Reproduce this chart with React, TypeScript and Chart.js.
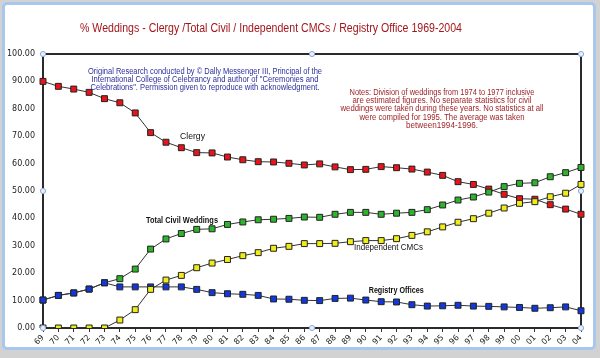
import React, { useEffect, useRef } from 'react';
import { Chart, registerables } from 'chart.js';

Chart.register(...registerables);

const years = ['69', '70', '71', '72', '73', '74', '75', '76', '77', '78', '79', '80', '81', '82', '83', '84', '85', '86', '87', '88', '89', '90', '91', '92', '93', '94', '95', '96', '97', '98', '99', '00', '01', '02', '03', '04'];

const clergy = [90.0, 88.2, 87.2, 86.0, 83.7, 82.2, 78.5, 71.3, 67.8, 65.8, 64.0, 63.9, 62.4, 61.4, 60.7, 60.6, 60.1, 59.5, 59.9, 58.8, 57.8, 57.9, 58.9, 58.5, 58.0, 56.9, 55.7, 53.4, 52.4, 50.7, 48.8, 47.2, 47.0, 45.0, 43.4, 41.5];

const totalCivil = [10.2, 11.9, 12.8, 14.2, 16.5, 18.0, 21.5, 28.8, 32.5, 34.5, 36.0, 36.2, 37.8, 38.7, 39.5, 39.7, 40.0, 40.5, 40.4, 41.5, 42.2, 42.2, 41.5, 41.9, 42.2, 43.2, 44.9, 46.7, 47.8, 49.6, 51.6, 52.8, 53.0, 55.2, 56.7, 58.6];

const independentCMCs = [0, 0, 0, 0, 0, 2.9, 6.7, 14.1, 17.5, 19.2, 22.0, 23.7, 25.0, 26.4, 27.5, 29.1, 29.8, 30.8, 30.8, 30.9, 31.5, 31.9, 31.9, 32.6, 33.8, 35.1, 36.9, 38.6, 39.9, 41.9, 43.8, 45.5, 46.1, 47.9, 49.2, 52.4];

const registryOffices = [10.2, 11.9, 12.8, 14.2, 16.5, 15.0, 15.0, 15.0, 15.0, 15.0, 14.1, 12.9, 12.5, 12.3, 11.9, 10.6, 10.5, 10.1, 10.0, 10.8, 10.9, 10.2, 9.6, 9.5, 8.5, 8.0, 8.1, 8.3, 8.0, 7.9, 7.7, 7.5, 7.2, 7.4, 7.7, 6.3];

const titleText = '% Weddings - Clergy /Total Civil / Independent CMCs / Registry Office 1969-2004';

const creditLines = [
  'Original Research conducted by \u00A9 Dally Messenger III, Principal of the',
  'International College of Celebrancy and author of "Ceremonies and',
  'Celebrations". Permission given to reproduce with acknowledgment.',
];

const noteLines = [
  'Notes: Division of weddings from 1974 to 1977 inclusive',
  'are estimated figures. No separate statistics for civil',
  'weddings were taken during these years. No statistics at all',
  'were compiled for 1995. The average was taken',
  'between1994-1996.',
];

const FONT = '"Liberation Sans", Arial, sans-serif';

function drawText(ctx: CanvasRenderingContext2D, s: string, x: number, y: number, font: string, color: string, align: CanvasTextAlign, maxW?: number) {
  ctx.font = font;
  ctx.fillStyle = color;
  ctx.textAlign = align;
  ctx.textBaseline = 'middle';
  if (maxW) ctx.fillText(s, x, y, maxW);
  else ctx.fillText(s, x, y);
}

const frameBorder = {
  id: 'frameBorder',
  beforeDatasetsDraw(chart: any) {
    const { ctx, chartArea: a } = chart;
    ctx.save();
    ctx.strokeStyle = '#2a2a2a';
    ctx.lineWidth = 2;
    ctx.beginPath();
    ctx.moveTo(a.left, a.top);
    ctx.lineTo(a.right, a.top);
    ctx.lineTo(a.right, a.bottom);
    ctx.stroke();
    ctx.restore();
  },
  afterDraw(chart: any) {
    const { ctx, chartArea: a } = chart;
    ctx.save();
    const mx = (a.left + a.right) / 2;
    const my = (a.top + a.bottom) / 2;
    const pts = [[a.left, a.top], [mx, a.top], [a.right, a.top], [a.left, my], [a.right, my], [a.left, a.bottom], [mx, a.bottom], [a.right, a.bottom]];
    for (const [x, y] of pts) {
      ctx.beginPath();
      ctx.arc(x, y, 2.6, 0, Math.PI * 2);
      ctx.fillStyle = '#e6eefa';
      ctx.fill();
      ctx.lineWidth = 1;
      ctx.strokeStyle = '#8eaad8';
      ctx.stroke();
    }
    drawText(ctx, titleText, 271, 29, `12px ${FONT}`, '#a3161c', 'center', 382);
    const cw = [234, 227, 229];
    creditLines.forEach((l, i) => drawText(ctx, l, 205, 71.7 + i * 7.8, `8.5px ${FONT}`, '#2c2f9c', 'center', cw[i]));
    const nw = [185, 179, 203, 165, 72];
    noteLines.forEach((l, i) => drawText(ctx, l, 442, 92.3 + i * 8.35, `8.5px ${FONT}`, '#a0262a', 'center', nw[i]));
    drawText(ctx, 'Clergy', 180, 136, `9.5px ${FONT}`, '#111', 'left', 25);
    drawText(ctx, 'Total Civil Weddings', 146, 220.7, `bold 9px ${FONT}`, '#111', 'left', 72);
    drawText(ctx, 'Independent CMCs', 354, 247.7, `9.5px ${FONT}`, '#111', 'left', 69);
    drawText(ctx, 'Registry Offices', 368.7, 290.3, `bold 9px ${FONT}`, '#111', 'left', 55);
    ctx.restore();
  },
};

function series(label: string, data: number[], color: string, order: number) {
  return {
    label,
    data,
    order,
    borderColor: '#333',
    borderWidth: 1,
    tension: 0,
    pointStyle: 'rect',
    pointRadius: 4.2,
    pointHoverRadius: 4.2,
    pointBackgroundColor: color,
    pointBorderColor: '#222',
    pointBorderWidth: 1,
  };
}

export default function App() {
  const ref = useRef<HTMLCanvasElement>(null);
  useEffect(() => {
    if (!ref.current) return;
    const chart = new Chart(ref.current, {
      type: 'line',
      data: {
        labels: years,
        datasets: [
          series('Clergy', clergy, '#e8141c', 3),
          series('Total Civil Weddings', totalCivil, '#2cb52c', 2),
          series('Independent CMCs', independentCMCs, '#f0ec18', 0),
          series('Registry Offices', registryOffices, '#1238dc', 1),
        ] as any,
      },
      options: {
        responsive: false,
        animation: false,
        events: [],
        layout: { padding: { top: 54, right: 19, left: 0, bottom: 0 } },
        plugins: { legend: { display: false }, tooltip: { enabled: false }, title: { display: false } },
        scales: {
          x: {
            type: 'category',
            offset: false,
            border: { display: true, width: 2, color: '#2a2a2a' },
            grid: { display: true, drawOnChartArea: false, drawTicks: true, tickLength: 4, color: '#333' },
            ticks: { autoSkip: false, minRotation: 45, maxRotation: 45, padding: 1, color: '#222', font: { family: 'DejaVu Sans', size: 8 } },
            afterFit: (s: any) => { s.height = 30; },
          },
          y: {
            min: 0,
            max: 100,
            border: { display: true, width: 2, color: '#2a2a2a' },
            grid: { display: false, drawTicks: false },
            ticks: { stepSize: 10, padding: 8, color: '#222', font: { family: 'DejaVu Sans', size: 8 }, callback: (v: any) => Number(v).toFixed(2) },
            afterFit: (s: any) => { s.width = 43; },
          },
        },
      },
      plugins: [frameBorder],
    });
    return () => chart.destroy();
  }, []);

  return (
    <div style={{ position: 'fixed', left: 0, top: 0, width: 600, height: 358, background: '#d2d2d2', overflow: 'hidden' }}>
      <div style={{ position: 'absolute', left: 2, top: 2, width: 594, height: 348, boxSizing: 'border-box', border: '3px solid #a9c6ee', borderRadius: 5, background: '#ffffff' }} />
      <canvas ref={ref} width={600} height={358} style={{ position: 'absolute', left: 0, top: 0 }} />
    </div>
  );
}
